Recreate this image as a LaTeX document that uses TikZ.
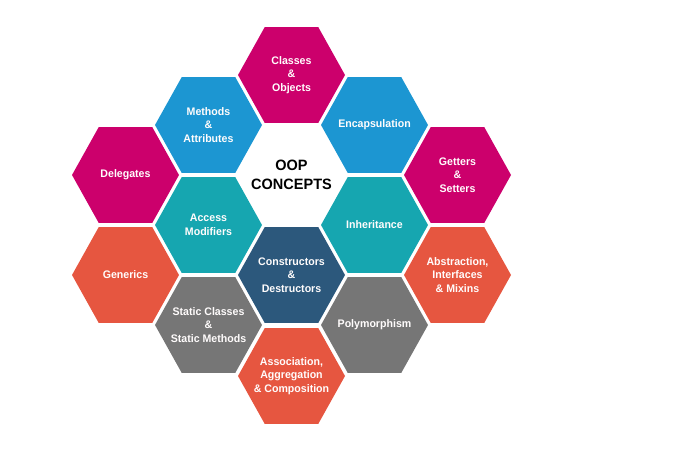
\documentclass[tikz,border=0pt]{standalone}
\usepackage{xcolor}
\usepackage{fontspec}
\setmainfont{Liberation Sans}
\usetikzlibrary{shapes.geometric}
\definecolor{magentahex}{RGB}{204,0,108}
\definecolor{bluehex}{RGB}{28,150,210}
\definecolor{tealhex}{RGB}{22,166,176}
\definecolor{darkhex}{RGB}{44,88,124}
\definecolor{orangehex}{RGB}{230,86,64}
\definecolor{grayhex}{RGB}{118,118,118}
% negative inner sep so that the text never makes a hexagon grow
\tikzstyle{hex}=[regular polygon, regular polygon sides=6, minimum size=107pt, yscale=1.035, inner sep=-25pt, outer sep=0pt, align=center, text=white!96!pink, font=\bfseries\fontsize{10.6}{13}\selectfont]

\begin{document}
\begin{tikzpicture}[x=1pt,y=-1pt]
  \useasboundingbox (0,0) rectangle (700,450);
  %% centre
  \draw (291.5,175) node[hex,text=black,font=\bfseries\fontsize{14.5}{18}\selectfont] (H33) {OOP\\CONCEPTS};

  %% first ring
  \draw (291.5,75) node[hex,fill=magentahex] (H31) {Classes\\\&\\Objects};
  \draw (208.5,125) node[hex,fill=bluehex] (H22) {Methods\\\&\\Attributes};
  \draw (374.5,125) node[hex,fill=bluehex] (H42) {Encapsulation};
  \draw (208.5,225) node[hex,fill=tealhex] (H24) {Access\\Modifiers};
  \draw (374.5,225) node[hex,fill=tealhex] (H44) {Inheritance};
  \draw (291.5,275) node[hex,fill=darkhex] (H35) {Constructors\\\&\\Destructors};

  %% outer hexes
  \draw (125.5,175) node[hex,fill=magentahex] (H13) {Delegates};
  \draw (457.5,175) node[hex,fill=magentahex] (H53) {Getters\\\&\\Setters};
  \draw (125.5,275) node[hex,fill=orangehex] (H15) {Generics};
  \draw (457.5,275) node[hex,fill=orangehex] (H55) {Abstraction,\\Interfaces\\\& Mixins};
  \draw (208.5,325) node[hex,fill=grayhex] (H26) {Static Classes\\\&\\Static Methods};
  \draw (374.5,325) node[hex,fill=grayhex] (H46) {Polymorphism};
  \draw (291.5,376) node[hex,fill=orangehex] (H37) {Association,\\Aggregation\\\& Composition};
\end{tikzpicture}
\end{document}
